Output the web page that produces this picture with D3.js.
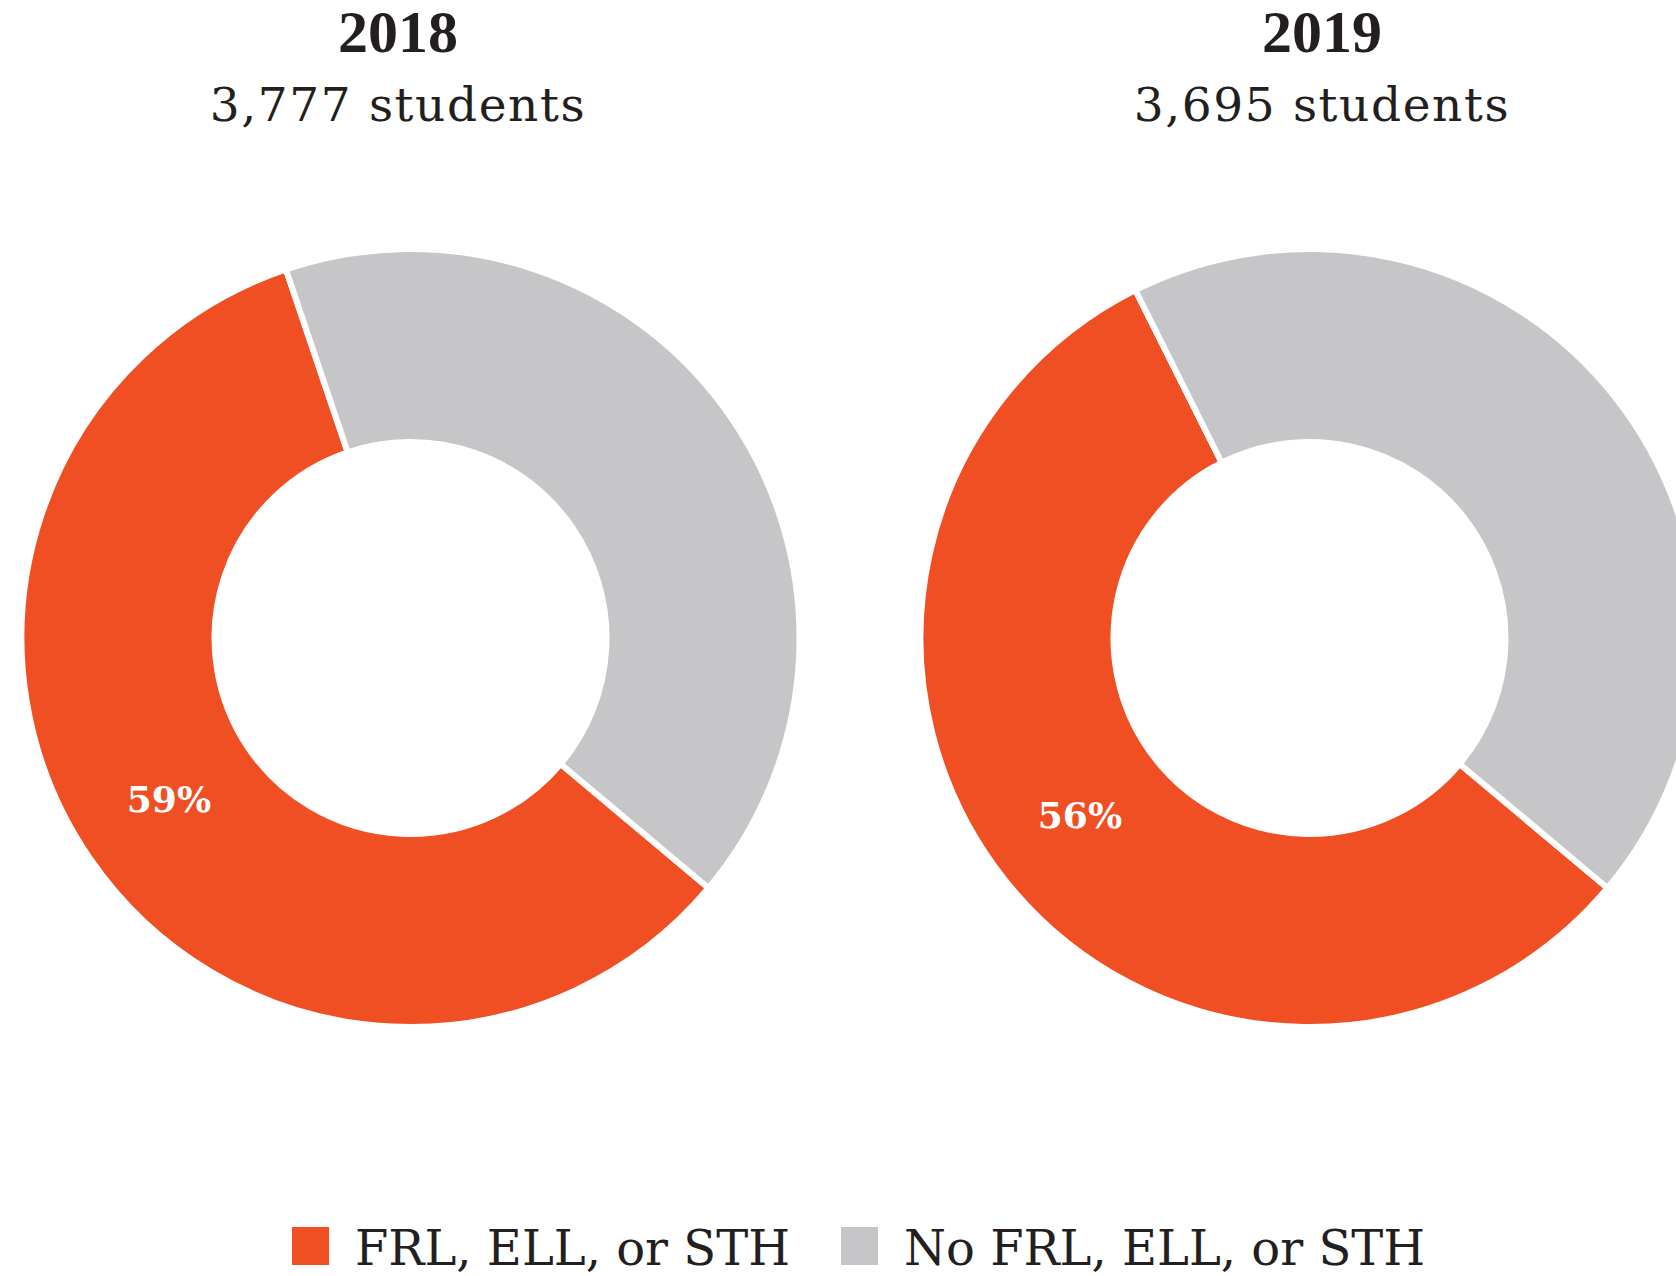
<!DOCTYPE html>
<html>
<head>
<meta charset="utf-8">
<script src="https://cdn.jsdelivr.net/npm/d3@7"></script>
<style>
	body { margin: 0; background: #fff; }
	svg { display: block; }
</style>
</head>
<body>
<div id="chart"></div>
<script>
// values
var years = ["2018", "2019"];
var totals = ["3,777 students", "3,695 students"];
var categories = ["FRL, ELL, or STH", "No FRL, ELL, or STH"];
var frlShare = [58.7, 56.5];
var noFrlShare = [41.3, 43.5];
var pctLabels = ["59%", "56%"];

var width = 1676, height = 1276;
var ink = "#231f20";

var color = d3.scaleOrdinal()
	.domain(categories)
	.range(["#f04e23", "#c6c6c8"]);

// donut centres and title centres
var donutX = d3.scalePoint().domain(years).range([410.5, 1309.5]);
var titleX = d3.scalePoint().domain(years).range([398, 1322]);
var cy = 638;

var svg = d3.select("#chart").append("svg")
	.attr("width", width)
	.attr("height", height);

var pie = d3.pie()
	.sort(null)
	.value(function(d) { return d.value; })
	.startAngle(130 * Math.PI / 180)
	.endAngle(490 * Math.PI / 180);

var arc = d3.arc()
	.innerRadius(196)
	.outerRadius(389);

var labelArc = d3.arc()
	.innerRadius(199)
	.outerRadius(386);

years.forEach(function(year, i) {
	var slices = [
		{ key: categories[0], value: frlShare[i] },
		{ key: categories[1], value: noFrlShare[i] }
	];

	var g = svg.append("g")
		.attr("transform", "translate(" + donutX(year) + "," + cy + ")");

	var arcs = pie(slices);

	g.selectAll("path")
		.data(arcs)
		.enter().append("path")
		.attr("d", arc)
		.attr("fill", function(d) { return color(d.data.key); })
		.attr("stroke", "#fff")
		.attr("stroke-width", 6);

	// percentage on the orange slice
	g.append("text")
		.attr("transform", "translate(" + labelArc.centroid(arcs[0]) + ")")
		.attr("text-anchor", "middle")
		.attr("dy", "0.24em")
		.attr("font-family", "DejaVu Serif")
		.attr("font-weight", "bold")
		.attr("font-size", 36)
		.attr("fill", "#fff")
		.text(pctLabels[i]);

	svg.append("text")
		.attr("x", titleX(year))
		.attr("y", 52)
		.attr("text-anchor", "middle")
		.attr("font-family", "Liberation Serif")
		.attr("font-weight", "bold")
		.attr("font-size", 60)
		.attr("fill", ink)
		.text(year);

	svg.append("text")
		.attr("x", titleX(year))
		.attr("y", 121)
		.attr("text-anchor", "middle")
		.attr("font-family", "DejaVu Serif")
		.attr("font-size", 47)
		.attr("letter-spacing", 1.6)
		.attr("fill", ink)
		.text(totals[i]);
});

// legend
var legendX = [292, 841];
var legend = svg.selectAll(".legend")
	.data(categories)
	.enter().append("g")
	.attr("class", "legend")
	.attr("transform", function(d, i) { return "translate(" + legendX[i] + ",1227)"; });

legend.append("rect")
	.attr("width", 37)
	.attr("height", 38)
	.attr("fill", function(d) { return color(d); });

legend.append("text")
	.attr("x", 63)
	.attr("y", 38)
	.attr("font-family", "DejaVu Serif")
	.attr("font-size", 48)
	.attr("fill", ink)
	.text(function(d) { return d; });
</script>
</body>
</html>
